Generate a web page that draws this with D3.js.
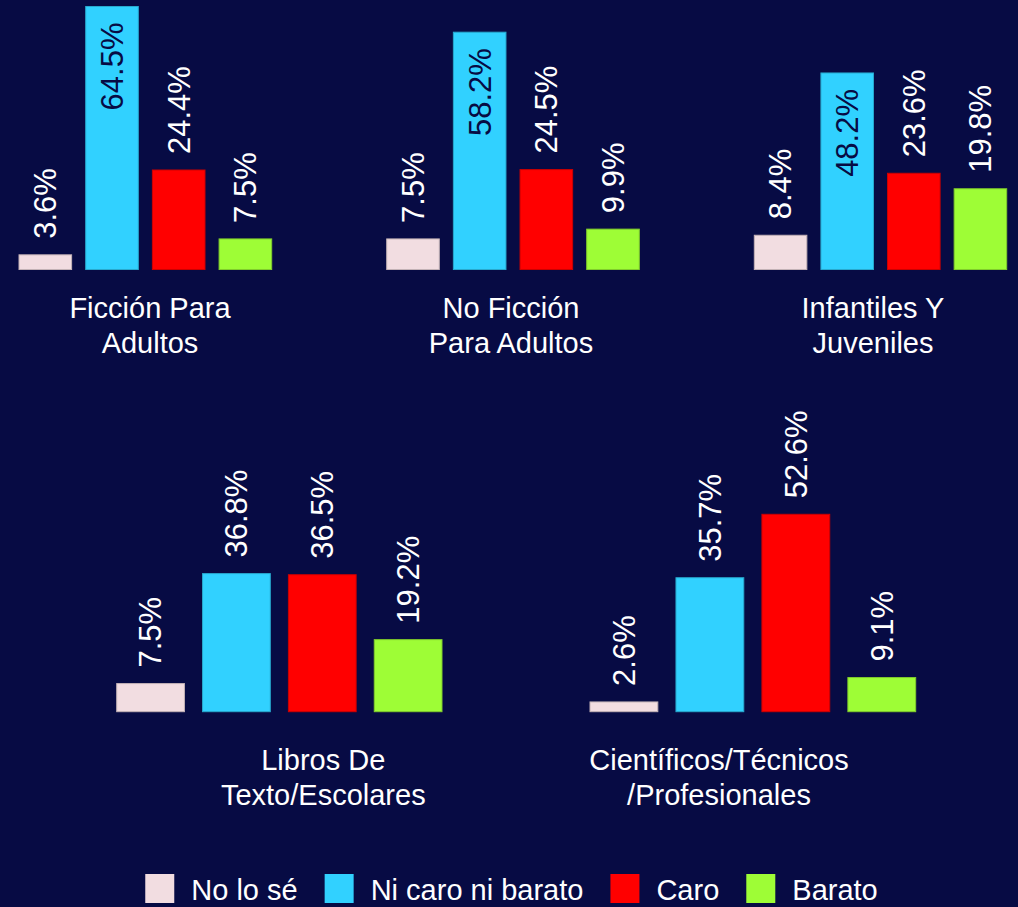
<!DOCTYPE html>
<html>
<head>
<meta charset="utf-8">
<script src="https://cdn.jsdelivr.net/npm/d3@7"></script>
<style>
  html, body { margin: 0; padding: 0; background: #070b44; }
  svg { display: block; font-family: "Liberation Sans", Arial, sans-serif; }
</style>
</head>
<body>
<div id="chart"></div>
<script>
// Données : une valeur par catégorie de livre, une série par réponse
const categories = [
  ["Ficción Para", "Adultos"],
  ["No Ficción", "Para Adultos"],
  ["Infantiles Y", "Juveniles"],
  ["Libros De", "Texto/Escolares"],
  ["Científicos/Técnicos", "/Profesionales"]
];
const series = ["No lo sé", "Ni caro ni barato", "Caro", "Barato"];
const noLoSe = [3.6, 7.5, 8.4, 7.5, 2.6];
const niCaroNiBarato = [64.5, 58.2, 48.2, 36.8, 35.7];
const caro = [24.4, 24.5, 23.6, 36.5, 52.6];
const barato = [7.5, 9.9, 19.8, 19.2, 9.1];
const colors = ["#f2dde1", "#31d1ff", "#ff0000", "#9efd36"];

const width = 1018;
const height = 907;
const bg = "#070b44";

// Mise en page des panneaux (deux rangées)
const rows = [
  { base: 269.5, top: 6.5, max: 64.5, limit: 0, labelY: 318 },
  { base: 711.7, top: 514.3, max: 52.6, limit: 395, labelY: 769.5 }
];
const panels = [
  { row: 0, x0: 19, x1: 271.7, labelX: 150 },
  { row: 0, x0: 386.7, x1: 639.3, labelX: 511 },
  { row: 0, x0: 754.3, x1: 1006.7, labelX: 873 },
  { row: 1, x0: 116.7, x1: 442, labelX: 323.3 },
  { row: 1, x0: 590, x1: 915.7, labelX: 719 }
];

const allSeries = [noLoSe, niCaroNiBarato, caro, barato];

const svg = d3.select("#chart")
  .append("svg")
  .attr("width", width)
  .attr("height", height);

svg.append("rect")
  .attr("width", width)
  .attr("height", height)
  .attr("fill", bg);

const valueSize = 31;
const gap = 16;

panels.forEach((p, i) => {
  const row = rows[p.row];
  const x = d3.scaleBand()
    .domain(series)
    .range([p.x0, p.x1])
    .paddingInner(0.211)
    .paddingOuter(0);
  const y = d3.scaleLinear()
    .domain([0, row.max])
    .range([row.base, row.top]);

  const data = series.map((s, k) => ({ s, v: allSeries[k][i], c: colors[k] }));
  const g = svg.append("g");

  g.selectAll("rect")
    .data(data)
    .enter()
    .append("rect")
    .attr("x", d => x(d.s))
    .attr("y", d => y(d.v))
    .attr("width", x.bandwidth())
    .attr("height", d => y(0) - y(d.v))
    .attr("fill", d => d.c)
    .attr("stroke", d => d3.color(d.c).darker(0.6))
    .attr("stroke-width", 1);

  // Étiquettes verticales : au-dessus de la barre, ou dedans si pas de place
  g.selectAll("text.val")
    .data(data)
    .enter()
    .append("text")
    .attr("class", "val")
    .attr("font-size", valueSize)
    .attr("dy", "0.35em")
    .text(d => d.v.toFixed(1) + "%")
    .each(function(d) {
      const t = d3.select(this);
      const len = this.getComputedTextLength();
      const cx = x(d.s) + x.bandwidth() / 2;
      const top = y(d.v);
      if (top - gap - len < row.limit) {
        t.attr("transform", `translate(${cx},${top + gap}) rotate(-90)`)
         .attr("text-anchor", "end")
         .attr("fill", bg);
      } else {
        t.attr("transform", `translate(${cx},${top - gap}) rotate(-90)`)
         .attr("text-anchor", "start")
         .attr("fill", "#ffffff");
      }
    });

  // Nom de la catégorie sur deux lignes
  const lbl = g.append("text")
    .attr("text-anchor", "middle")
    .attr("font-size", 29)
    .attr("fill", "#ffffff");
  categories[i].forEach((line, j) => {
    lbl.append("tspan")
      .attr("x", p.labelX)
      .attr("y", row.labelY + j * 35)
      .text(line);
  });
});

// Légende centrée en bas
const legend = svg.append("g");
const sw = 29;
let lx = 0;
const items = [];
series.forEach((s, k) => {
  const item = legend.append("g");
  item.append("rect")
    .attr("x", 0)
    .attr("y", 874)
    .attr("width", sw)
    .attr("height", sw)
    .attr("fill", colors[k]);
  const t = item.append("text")
    .attr("x", sw + 17)
    .attr("y", 900)
    .attr("font-size", 29)
    .attr("fill", "#ffffff")
    .text(s);
  const w = sw + 17 + t.node().getComputedTextLength();
  items.push({ item, x: lx });
  lx += w + 27;
});
const total = lx - 27;
const startX = 511.5 - total / 2;
items.forEach(d => d.item.attr("transform", `translate(${startX + d.x},0)`));
</script>
</body>
</html>
